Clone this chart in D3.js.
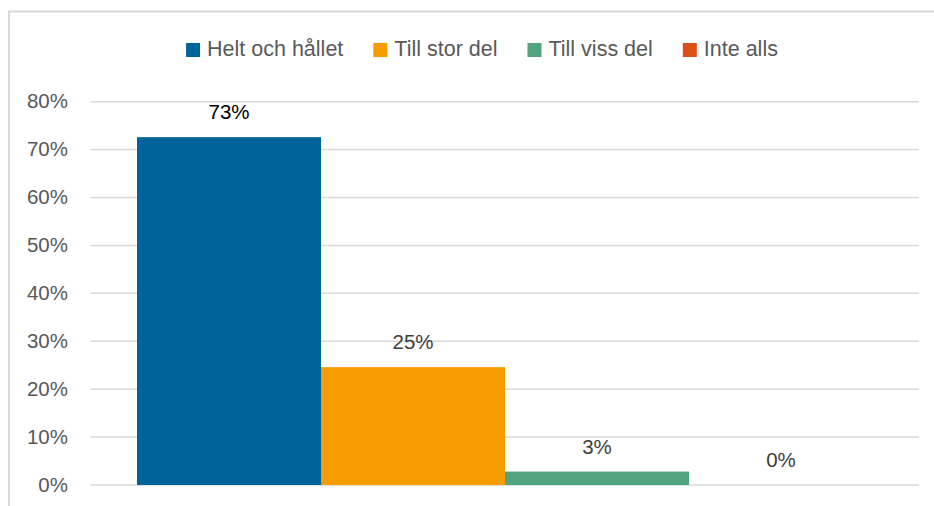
<!DOCTYPE html>
<html>
<head>
<meta charset="utf-8">
<script src="https://cdn.jsdelivr.net/npm/d3@7"></script>
<style>
  html, body { margin: 0; padding: 0; background: #fff; }
  svg { display: block; font-family: "Liberation Sans", Arial, sans-serif; }
</style>
</head>
<body>
<div id="chart"></div>
<script>
// data
const series = ['Helt och hållet', 'Till stor del', 'Till viss del', 'Inte alls'];
const values = [0.726, 0.246, 0.028, 0.0];
const labels = ['73%', '25%', '3%', '0%'];
const colors = ['#006399', '#f59c00', '#52a47e', '#dc4e18'];
const yTicks = [0, 0.1, 0.2, 0.3, 0.4, 0.5, 0.6, 0.7, 0.8];

const W = 934, H = 506;
const plot = { left: 91, right: 919, top: 101.7, bottom: 485 };

const svg = d3.select('#chart').append('svg')
  .attr('width', W)
  .attr('height', H);

// chart frame
svg.append('rect')
  .attr('x', 9).attr('y', 11.5)
  .attr('width', W).attr('height', H)
  .attr('fill', 'none')
  .attr('stroke', '#d9d9d9')
  .attr('stroke-width', 2);

const y = d3.scaleLinear().domain([0, 0.8]).range([plot.bottom, plot.top]);

// one category, bars for each series
const xCat = d3.scaleBand().domain(['all']).range([plot.left, plot.right]).paddingOuter(0.0625);
const x = d3.scaleBand().domain(series)
  .range([xCat('all'), xCat('all') + xCat.bandwidth()])
  .padding(0);

// gridlines
svg.append('g')
  .selectAll('line')
  .data(yTicks)
  .join('line')
  .attr('x1', plot.left).attr('x2', plot.right)
  .attr('y1', d => y(d)).attr('y2', d => y(d))
  .attr('stroke', '#d9d9d9')
  .attr('stroke-width', 1.5);

// y axis labels
const yAxis = svg.append('g')
  .attr('transform', 'translate(68,0)')
  .call(d3.axisLeft(y).tickValues(yTicks).tickFormat(d3.format('.0%')).tickSize(0).tickPadding(0));
yAxis.select('.domain').remove();
yAxis.selectAll('text')
  .attr('fill', '#595959')
  .attr('dy', '0.3em')
  .style('font-size', '20.5px')
  .style('font-family', '"Liberation Sans", Arial, sans-serif');

// bars
svg.append('g')
  .selectAll('rect')
  .data(series)
  .join('rect')
  .attr('x', d => x(d))
  .attr('width', x.bandwidth())
  .attr('y', (d, i) => y(values[i]))
  .attr('height', (d, i) => y(0) - y(values[i]))
  .attr('fill', (d, i) => colors[i]);

// data labels
svg.append('g')
  .selectAll('text')
  .data(series)
  .join('text')
  .attr('x', d => x(d) + x.bandwidth() / 2)
  .attr('y', (d, i) => y(values[i]) - 25.5)
  .attr('text-anchor', 'middle')
  .attr('dominant-baseline', 'central')
  .attr('fill', (d, i) => i === 0 ? '#000' : '#404040')
  .style('font-size', '20.5px')
  .text((d, i) => labels[i]);

// legend
const legend = svg.append('g');
const items = legend.selectAll('g')
  .data(series)
  .join('g');
items.append('rect')
  .attr('y', 43)
  .attr('width', 14).attr('height', 14)
  .attr('fill', (d, i) => colors[i]);
items.append('text')
  .attr('x', 21)
  .attr('y', 49)
  .attr('dominant-baseline', 'central')
  .attr('fill', '#595959')
  .style('font-size', '21.5px')
  .text(d => d);

let offset = 0;
const widths = [];
items.each(function () {
  widths.push(21 + d3.select(this).select('text').node().getComputedTextLength());
});
const total = d3.sum(widths) + 30 * (widths.length - 1);
const start = 482 - total / 2;
items.attr('transform', (d, i) => {
  const tx = start + offset;
  offset += widths[i] + 30;
  return `translate(${tx},0)`;
});
</script>
</body>
</html>
